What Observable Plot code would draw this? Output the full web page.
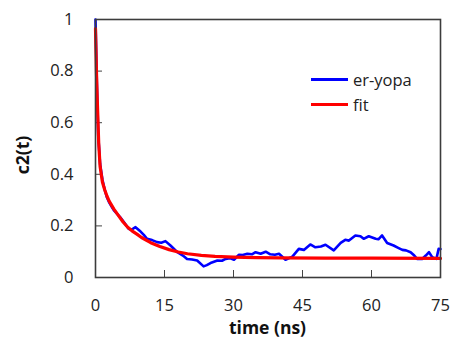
<!DOCTYPE html>
<html><head><meta charset="utf-8">
<script src="https://cdn.jsdelivr.net/npm/d3@7"></script>
<script src="https://cdn.jsdelivr.net/npm/@observablehq/plot@0.6"></script>
<style>
body{margin:0;background:#fff;}
#wrap{position:relative;width:453px;height:337px;font-family:"Open Sans",sans-serif;overflow:hidden;}
.legend{position:absolute;left:311px;top:67px;font-size:16.5px;color:#222;line-height:25px;}
.row{display:flex;align-items:center;height:25px;}
.sw{width:37px;height:3px;margin-right:5px;}
.title{position:absolute;font-weight:bold;font-size:17.5px;color:#111;line-height:17px;white-space:nowrap;transform:translate(-50%,-50%);}
.title.y{transform:translate(-50%,-50%) rotate(-90deg);}
</style></head><body><div id="wrap"></div>
<script>
const xTicks = [0, 15, 30, 45, 60, 75];
const yTicks = [0, 0.2, 0.4, 0.6, 0.8, 1];
const seriesNames = ["er-yopa", "fit"];
const seriesColors = ["#0000ff", "#ff0000"];
const xTitle = "time (ns)";
const yTitle = "c2(t)";

// er-yopa (simulation) values
const simT = [0,0.3,0.6,1.0,1.5,2.0,2.5,3.0,3.5,4.0,4.7,5.3,6.2,7.2,7.8,8.7,9.8,10.5,11.2,12.3,13.4,14.3,15.2,16.3,17.8,19.0,19.9,21.0,22.1,23.5,24.2,25.0,26.5,27.5,28.3,29.2,30.1,31.2,32.0,33.0,34.0,34.8,35.9,37.0,38.0,39.0,39.9,41.3,42.8,44.2,45.3,46.7,47.8,49.0,50.0,51.8,53.3,54.3,55.1,56.5,57.6,58.3,59.4,60.9,61.5,62.3,63.4,64.8,65.8,66.7,67.5,68.5,69.3,69.9,71.0,71.8,72.5,73.2,74.1,74.6,75];
const simC = [1.0,0.75,0.55,0.44,0.38,0.34,0.31,0.29,0.275,0.26,0.247,0.235,0.214,0.189,0.185,0.195,0.178,0.165,0.15,0.145,0.137,0.135,0.141,0.124,0.098,0.085,0.072,0.07,0.066,0.043,0.048,0.056,0.066,0.065,0.072,0.075,0.069,0.088,0.087,0.092,0.09,0.098,0.092,0.1,0.09,0.088,0.092,0.069,0.081,0.111,0.107,0.128,0.117,0.12,0.127,0.105,0.134,0.146,0.143,0.163,0.16,0.15,0.16,0.15,0.148,0.163,0.134,0.124,0.115,0.107,0.105,0.098,0.085,0.072,0.072,0.085,0.098,0.079,0.072,0.111,0.11];

// fit values
const fitT = [0,0.2,0.4,0.7,1.0,1.5,2.0,2.5,3,4,5,6,7,8,9,10,12,14,16,18,20,23,26,30,35,40,50,60,75];
const fitC = [0.965,0.80,0.68,0.52,0.43,0.37,0.34,0.315,0.295,0.265,0.24,0.215,0.195,0.18,0.168,0.155,0.135,0.12,0.108,0.099,0.092,0.086,0.082,0.079,0.077,0.076,0.075,0.075,0.074];

const sim = simT.map((t, i) => ({t, c: simC[i]}));
const fit = fitT.map((t, i) => ({t, c: fitC[i]}));

const chart = Plot.plot({
  width: 453, height: 337,
  marginLeft: 95, marginRight: 13, marginTop: 19, marginBottom: 60,
  style: {fontFamily: "'Open Sans', sans-serif", fontSize: "16.5px", color: "#222", background: "#fff"},
  x: {domain: [0, 75], ticks: xTicks},
  y: {domain: [0, 1], ticks: yTicks},
  marks: [
    Plot.axisX({ticks: xTicks, tickSize: -7, tickPadding: 29, label: null, stroke: "#444", fill: "#222"}),
    Plot.axisY({ticks: yTicks, tickSize: -7, tickPadding: 29, label: null, tickFormat: d => String(d), stroke: "#444", fill: "#222"}),
    Plot.line(sim, {x: "t", y: "c", stroke: seriesColors[0], strokeWidth: 2.6}),
    Plot.line(fit, {x: "t", y: "c", stroke: seriesColors[1], strokeWidth: 3.2}),
    Plot.frame({stroke: "#3c3c3c", strokeWidth: 1.6})
  ]
});
const wrap = document.getElementById("wrap");
wrap.appendChild(chart);
const leg = document.createElement("div");
leg.className = "legend";
seriesNames.forEach((n, i) => {
  const r = document.createElement("div"); r.className = "row";
  const s = document.createElement("div"); s.className = "sw"; s.style.background = seriesColors[i];
  const l = document.createElement("span"); l.textContent = n;
  r.appendChild(s); r.appendChild(l); leg.appendChild(r);
});
wrap.appendChild(leg);
const xt = document.createElement("div");
xt.className = "title"; xt.textContent = xTitle;
xt.style.left = "267.5px"; xt.style.top = "327px";
wrap.appendChild(xt);
const yt = document.createElement("div");
yt.className = "title y"; yt.textContent = yTitle;
yt.style.left = "22px"; yt.style.top = "155px";
wrap.appendChild(yt);
</script></body></html>
